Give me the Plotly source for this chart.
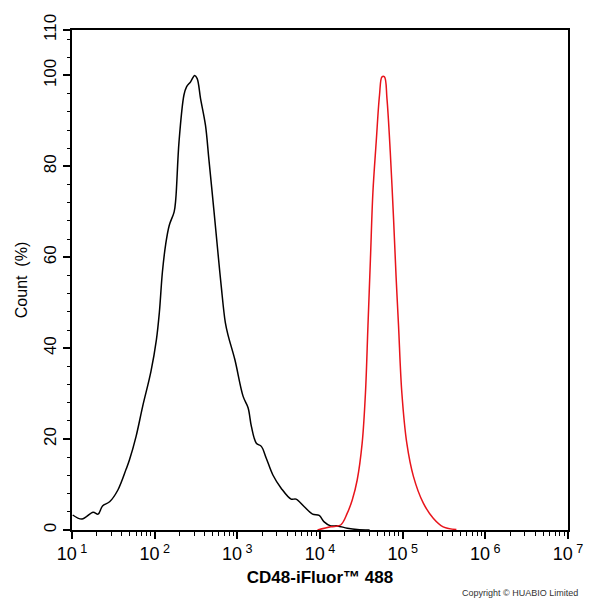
import plotly.graph_objects as go

# black histogram (isotype / unstained)
black_x = [10.2, 13.2, 18.0, 20.7, 23.4, 28.5, 35.9, 45.2, 49.5, 59.6, 71.6, 90.2,
           105, 114, 124, 136, 150, 172, 180, 197, 226, 243, 272, 305, 327, 359,
           412, 452, 519, 582, 638, 716, 776, 933, 1175, 1349, 1479, 1698, 1950,
           2239, 2692, 3388, 4467, 5129, 6457, 8128, 9772, 11220, 13490, 16220,
           21380, 28180, 39810]
black_y = [3.3, 2.4, 3.9, 3.5, 5.3, 6.2, 8.8, 13.4, 15.4, 20.6, 27.2, 34.9,
           41.9, 47.9, 56.7, 62.9, 67.0, 70.0, 72.8, 85.4, 95.7, 97.5, 98.6, 100, 99.3, 94.9,
           89.0, 81.7, 70.6, 61.1, 53.7, 45.6, 42.7, 37.5, 29.4, 26.9, 22.8, 19.1, 18.4,
           15.8, 12.1, 9.2, 6.8, 6.8, 5.1, 3.5, 3.2, 1.8, 0.9, 0.9,
           0.4, 0.1, 0.0]

# red histogram (CD48 stained)
red_x = [9333, 13490, 17780, 21380, 24550, 28180, 32360, 35480, 38020, 40740,
         43650, 47860, 52480, 56230, 60260, 64570, 70790, 77620, 83180, 89130,
         97720, 112200, 134900, 177800, 234400, 309000, 446700]
red_y = [0.0, 0.7, 1.1, 3.7, 6.6, 11.0, 19.1, 30.2, 44.9, 59.6,
         74.3, 85.4, 95.7, 99.7, 99.7, 94.9, 83.2, 68.4, 55.9, 44.9,
         30.2, 19.1, 11.8, 5.9, 2.6, 0.7, 0.1]

x_tickvals = [10, 100, 1000, 10000, 100000, 1000000, 10000000]
x_ticktext = ["10<sup> 1</sup>", "10<sup> 2</sup>", "10<sup> 3</sup>", "10<sup> 4</sup>",
              "10<sup> 5</sup>", "10<sup> 6</sup>", "10<sup> 7</sup>"]
y_tickvals = [0, 20, 40, 60, 80, 100, 110]

x_minor = [m * d for d in [10, 100, 1000, 10000, 100000, 1000000] for m in range(2, 10)]
y_minor = list(range(4, 110, 4))

fig = go.Figure()
fig.add_trace(go.Scatter(x=black_x, y=black_y, mode="lines", line_shape="spline",
                         line=dict(color="black", width=1.5), showlegend=False))
fig.add_trace(go.Scatter(x=red_x, y=red_y, mode="lines", line_shape="spline",
                         line=dict(color="#e8141b", width=1.5), showlegend=False))

fig.add_annotation(x=1, y=0, xref="paper", yref="paper", xanchor="right", yanchor="top",
                   xshift=12, yshift=-56, showarrow=False,
                   text="Copyright © HUABIO Limited",
                   font=dict(family="Liberation Sans, Arial", size=9, color="#333"))

fig.update_layout(
    width=595, height=600,
    margin=dict(l=72, r=22, t=30, b=70),
    plot_bgcolor="white", paper_bgcolor="white",
    font=dict(family="Liberation Sans, Arial", color="black"),
    xaxis=dict(type="log", range=[1, 7], tickvals=x_tickvals, ticktext=x_ticktext,
               ticks="outside", ticklen=7, tickwidth=1.5, tickcolor="black",
               showline=True, linecolor="black", linewidth=1.5, mirror=True,
               showgrid=False, zeroline=False, tickfont=dict(size=18),
               minor=dict(tickvals=x_minor, ticks="outside", ticklen=4,
                          tickwidth=1, tickcolor="black", showgrid=False),
               title=dict(text="<b>CD48-iFluor™ 488</b>", font=dict(size=17), standoff=8)),
    yaxis=dict(range=[0, 110], tickvals=y_tickvals, tickangle=-90,
               ticks="outside", ticklen=7, tickwidth=1.5, tickcolor="black",
               showline=True, linecolor="black", linewidth=1.5, mirror=True,
               showgrid=False, zeroline=False, tickfont=dict(size=17),
               minor=dict(tickvals=y_minor, ticks="outside", ticklen=3,
                          tickwidth=1, tickcolor="black", showgrid=False),
               title=dict(text="Count  (%)", font=dict(size=16), standoff=10)),
)

fig.write_html("out.html", config={"displayModeBar": False},
               post_script="document.body.style.margin='0';")
